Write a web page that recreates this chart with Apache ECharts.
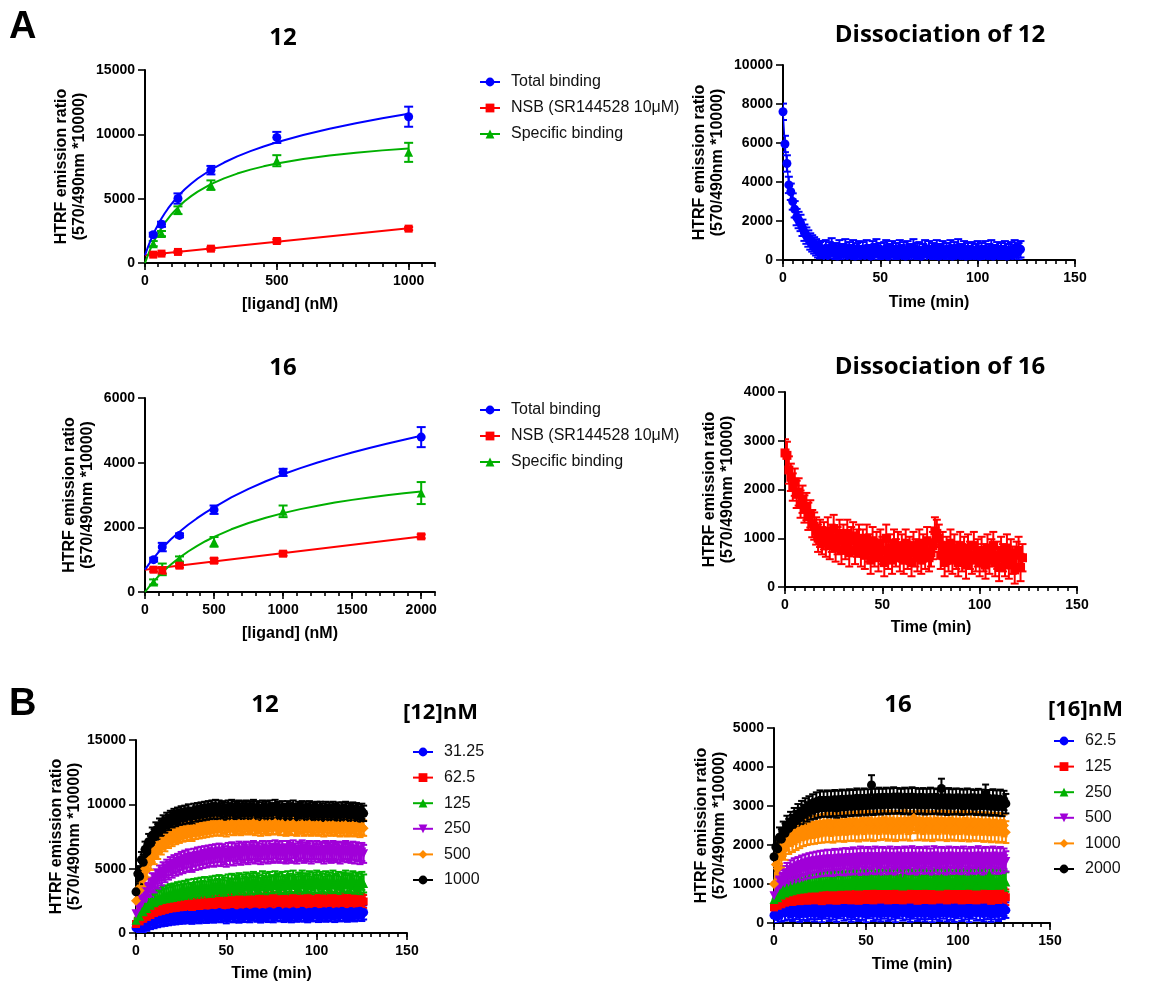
<!DOCTYPE html>
<html><head><meta charset="utf-8">
<script src="https://cdn.jsdelivr.net/npm/echarts@6/dist/echarts.min.js"></script>
<style>html,body{margin:0;padding:0;background:#fff}#c{width:1154px;height:984px}</style>
</head><body><div id="c"></div>
<script>
// ---------- shared time grid (min) ----------
const timeMin = [0,1,2,3,4,5,6,7,8,9,10,11,12,13,14,15,16,17,18,19,20,21,22,23,24,25,26,27,28,29,30,31,32,33,34,35,36,37,38,39,40,41,42,43,44,45,46,47,48,49,50,51,52,53,54,55,56,57,58,59,60,61,62,63,64,65,66,67,68,69,70,71,72,73,74,75,76,77,78,79,80,81,82,83,84,85,86,87,88,89,90,91,92,93,94,95,96,97,98,99,100,101,102,103,104,105,106,107,108,109,110,111,112,113,114,115,116,117,118,119,120,121,122,123,124,125,126];

// ---------- A: saturation of 12 ----------
const sat12Conc = [31.25,62.5,125,250,500,1000];
const sat12Total = [2200,3010,5010,7215,9760,11370];
const sat12TotalErr = [150,200,400,330,430,780];
const sat12NSB = [650,730,860,1115,1710,2670];
const sat12NSBErr = [60,60,80,100,120,120];
const sat12Spec = [1505,2285,4100,6050,7950,8600];
const sat12SpecErr = [200,200,300,370,430,740];
const fit12X = [0,5,10,15,20,25,31.25,40,50,62.5,75,87.5,100,125,150,175,200,250,300,350,400,450,500,600,700,800,900,1000];
const fit12Total = [600,897,1179,1447,1701,1944,2232,2608,3004,3456,3866,4239,4581,5188,5710,6165,6567,7249,7810,8285,8695,9057,9382,9945,10429,10856,11243,11600];
const fit12Spec = [0,286,558,815,1059,1291,1566,1924,2299,2725,3108,3455,3771,4325,4795,5197,5547,6124,6580,6950,7255,7512,7732,8085,8359,8576,8753,8900];
const fit12NSBX = [0,1000];
const fit12NSB = [600,2700];

// ---------- A: saturation of 16 ----------
const sat16Conc = [62.5,125,250,500,1000,2000];
const sat16Total = [1000,1390,1750,2545,3700,4790];
const sat16TotalErr = [60,130,60,130,110,310];
const sat16NSB = [690,670,815,970,1185,1720];
const sat16NSBErr = [60,100,60,70,60,60];
const sat16Spec = [310,700,1020,1550,2495,3060];
const sat16SpecErr = [80,180,80,150,180,340];
const fit16X = [0,31.25,62.5,100,125,187.5,250,312.5,375,437.5,500,625,750,875,1000,1125,1250,1375,1500,1625,1750,1875,2000];
const fit16Total = [690,876,1049,1242,1362,1630,1865,2080,2275,2455,2620,2925,3190,3425,3640,3832,4004,4163,4312,4452,4584,4710,4830];
const fit16Spec = [0,170,327,500,608,851,1064,1253,1420,1570,1705,1939,2134,2298,2440,2563,2670,2765,2849,2925,2993,3054,3110];
const fit16NSBX = [0,2000];
const fit16NSB = [690,1720];

// ---------- A: dissociation ----------
const diss12 = [7600,5950,4950,3850,3500,3000,2600,2200,2050,1900,1650,1400,1250,1100,950,850,750,650,550,500,
550,300,600,250,500,700,350,450,200,600,400,300,650,250,500,350,600,200,450,550,300,
500,250,600,350,200,550,400,650,300,450,250,500,600,200,400,550,300,450,250,600,
350,500,200,550,400,300,650,250,450,500,200,400,600,300,550,250,450,350,600,200,
400,550,250,450,300,600,200,500,350,650,250,400,550,200,450,300,500,250,400,550,
200,450,300,550,250,400,600,200,350,500,250,450,300,550,200,400,500,250,600,350,450,550];
const diss12Err = 420;
const diss16 = [2750,2700,2400,2250,2050,2150,1900,1950,1700,1800,1600,1650,1450,1500,1300,1250,1150,1000,1100,950,
1050,900,1150,850,1000,1200,800,950,1100,750,1000,850,1100,700,950,1050,750,900,1000,700,
900,650,1000,800,550,950,700,850,600,900,750,500,1000,650,800,550,900,700,850,600,
800,550,900,650,750,500,850,700,600,900,550,800,650,950,600,700,850,1150,1100,1000,
650,850,500,750,600,900,550,800,650,500,850,600,750,450,800,650,550,850,600,700,
500,750,600,450,800,550,700,850,500,650,400,750,600,500,800,450,700,550,350,650,750,400,600];
const diss16Err = 280;

// ---------- B: association of 12 ----------
const conc12Labels = ['31.25','62.5','125','250','500','1000'];
const assoc12_31 = [400,520,480,650,600,780,720,900,850,980,920,1050,1000,1120,1060,1180,1100,1230,1150,1280,1200,
1320,1220,1350,1260,1400,1280,1420,1300,1450,1330,1260,1460,1350,1500,1300,1470,1380,1520,1330,1480,
1400,1550,1350,1500,1420,1600,1380,1520,1450,1300,1560,1420,1620,1380,1500,1450,1350,1580,1470,1400,
1620,1450,1380,1560,1500,1650,1420,1530,1360,1600,1480,1550,1400,1650,1470,1380,1580,1500,1700,1450,
1520,1400,1630,1480,1560,1380,1650,1500,1420,1600,1470,1700,1430,1550,1380,1620,1500,1450,1680,1520,
1400,1600,1480,1650,1420,1550,1700,1450,1580,1400,1650,1520,1450,1700,1480,1600,1420,1560,1680,1500,
1450,1650,1520,1700,1480,1600];
const assoc12_62 = [700,950,900,1150,1100,1350,1250,1500,1400,1600,1550,1700,1650,1800,1720,1880,1800,1950,1870,2000,1920,
2050,1950,2100,2000,2150,2020,2200,2080,2250,2100,2020,2280,2150,2300,2100,2330,2200,2380,2150,2350,
2250,2420,2200,2400,2300,2500,2250,2450,2350,2200,2500,2300,2550,2250,2450,2380,2600,2300,2480,2400,
2550,2350,2600,2420,2300,2580,2450,2650,2350,2500,2400,2620,2330,2550,2450,2700,2380,2520,2450,2600,
2400,2650,2480,2350,2600,2450,2700,2400,2550,2450,2650,2380,2580,2500,2700,2420,2550,2350,2620,2480,
2550,2400,2680,2500,2350,2600,2450,2700,2420,2550,2480,2650,2380,2600,2500,2700,2400,2580,2450,2650,
2500,2400,2620,2480,2550,2450];
const assoc12_125 = [1000,1400,1300,1750,1650,2050,1900,2300,2150,2500,2350,2650,2500,2800,2650,2900,2750,3000,2850,3100,2950,
3150,3000,3250,3050,3300,3100,3350,3150,3450,3200,3100,3500,3250,3550,3300,3600,3350,3650,3300,3600,
3450,3700,3400,3750,3500,3800,3450,3750,3600,3400,3850,3550,3900,3500,3800,3650,3950,3550,3850,3700,
4000,3600,3900,3750,4050,3650,3950,3800,3600,4100,3750,3950,3650,4050,3800,3700,4100,3850,3950,3700,
4050,3800,3650,4100,3900,3750,4150,3850,3700,4000,3900,4150,3750,3950,3850,4100,3700,4000,3850,4150,
3800,4050,3900,3700,4100,3850,4000,3750,4150,3900,3800,4050,3700,4000,3900,4150,3800,3950,3850,4100,
3750,4000,3900,3700,4050,3850];
const assoc12_250 = [1500,2100,2000,2700,2600,3200,3100,3600,3500,3950,3850,4250,4150,4550,4400,4800,4650,5000,4850,5200,5000,
5350,5150,5450,5250,5600,5350,5700,5450,5800,5550,5450,5850,5600,5950,5650,6000,5750,6050,5800,6100,
5900,6150,5850,6200,5950,6250,5900,6200,6050,5850,6300,6000,6350,5950,6250,6100,6400,6000,6300,6150,
6400,6050,6350,6200,6450,6100,6350,6250,6050,6450,6200,6400,6100,6450,6250,6150,6500,6250,6400,6150,
6450,6200,6100,6450,6300,6150,6500,6250,6100,6400,6300,6500,6150,6350,6250,6450,6100,6400,6250,6450,
6200,6400,6300,6100,6450,6250,6350,6150,6450,6300,6200,6400,6100,6350,6250,6450,6200,6300,6150,6400,
6100,6350,6250,6050,6300,6150];
const assoc12_500 = [2500,3400,3300,4300,4200,5000,4900,5600,5500,6100,5950,6500,6350,6850,6700,7100,6950,7300,7200,7500,7350,
7650,7500,7750,7600,7850,7700,7950,7750,8050,7850,7750,8100,7900,8150,7950,8200,8000,8250,8050,8300,
8100,8350,8150,8400,8200,8450,8150,8400,8300,8100,8450,8250,8500,8200,8400,8300,8500,8200,8450,8300,
8500,8250,8450,8300,8550,8200,8450,8350,8150,8500,8300,8450,8200,8500,8300,8250,8550,8300,8450,8200,
8500,8250,8150,8450,8300,8200,8500,8250,8150,8400,8300,8450,8150,8400,8250,8450,8150,8350,8250,8400,
8150,8400,8250,8100,8400,8200,8350,8150,8400,8250,8150,8350,8100,8350,8200,8400,8100,8300,8150,8350,
8100,8300,8200,8050,8250,8150];
const assoc12_1000 = [3200,4600,4400,5700,5500,6500,6300,7100,6950,7600,7450,8000,7850,8300,8150,8550,8400,8750,8600,8900,8800,
9050,8900,9150,9000,9250,9050,9300,9100,9400,9150,9100,9450,9250,9500,9300,9550,9350,9600,9400,9650,
9450,9700,9500,9750,9450,9700,9500,9650,9550,9400,9700,9500,9750,9450,9650,9550,9700,9450,9650,9500,
9700,9450,9650,9500,9750,9400,9650,9550,9350,9700,9500,9650,9400,9700,9500,9450,9750,9500,9600,9400,
9650,9450,9350,9650,9500,9400,9700,9450,9350,9600,9500,9650,9350,9600,9450,9650,9350,9550,9450,9600,
9350,9600,9450,9300,9600,9400,9550,9350,9600,9450,9350,9550,9300,9550,9400,9600,9300,9500,9350,9550,
9300,9500,9400,9250,9450,9300];
const assoc12Err = [550,500,700,700,600,600];

// ---------- B: association of 16 ----------
const conc16Labels = ['62.5','125','250','500','1000','2000'];
const assoc16_62 = [200,280,180,330,240,380,260,400,290,350,250,420,300,380,230,430,280,360,250,410,300,
380,240,430,300,370,220,420,310,390,250,440,290,360,230,410,320,380,260,430,290,
360,230,420,300,390,250,440,280,370,220,410,320,380,250,430,290,360,240,420,310,
380,250,430,290,370,220,410,320,390,260,440,290,360,230,420,310,380,250,430,300,
370,240,410,300,380,220,440,290,360,250,420,310,390,240,430,280,370,230,410,320,
380,250,430,290,360,220,420,310,390,260,440,280,370,240,410,300,380,230,430,290,
360,250,420,300,380,330];
const assoc16_125 = [400,520,440,580,480,620,520,660,560,640,540,700,580,680,560,720,600,690,570,730,620,
700,580,740,620,710,560,750,640,690,580,760,630,720,570,740,650,700,590,770,620,
720,580,760,640,700,570,780,620,730,590,760,650,700,580,770,630,720,600,750,640,
700,580,770,630,720,590,760,650,710,580,780,620,730,600,760,640,700,570,770,630,
720,590,760,650,700,580,780,620,730,600,760,640,710,580,770,630,720,600,750,640,
700,580,770,900,720,590,760,650,710,580,780,620,730,600,760,640,700,570,770,630,
720,590,760,640,700,660];
const assoc16_250 = [600,720,650,800,720,860,770,900,800,920,830,950,850,970,870,990,880,1000,900,1010,920,
1020,900,1040,920,1060,930,1050,940,1080,950,1070,930,1090,960,1060,940,1100,970,1070,950,
1090,960,1120,980,1150,950,1100,990,1130,960,1110,980,1140,970,1100,990,1150,960,1120,980,
1100,960,1140,990,1110,970,1150,980,1120,950,1160,990,1110,970,1140,990,1100,960,1150,980,
1110,970,1140,990,1100,960,1150,980,1120,950,1160,990,1110,970,1140,990,1100,960,1150,980,
1120,960,1140,990,1110,970,1150,980,1120,950,1160,990,1110,970,1140,990,1250,960,1150,980,
1110,970,1140,990,1100,1050];
const assoc16_500 = [700,950,880,1100,1020,1200,1120,1280,1200,1350,1250,1400,1300,1430,1330,1470,1370,1500,1400,1530,1420,
1550,1430,1570,1450,1590,1460,1600,1470,1620,1480,1610,1460,1640,1490,1620,1500,1650,1480,1660,1510,
1640,1500,1680,1520,1650,1490,1700,1530,1660,1500,1690,1540,1650,1510,1700,1530,1670,1500,1690,1550,
1660,1510,1700,1540,1650,1500,1690,1550,1660,1400,1700,1530,1670,1510,1710,1540,1660,1500,1690,1550,
1660,1520,1700,1540,1650,1500,1710,1550,1670,1510,1690,1540,1660,1500,1700,1550,1670,1520,1690,1540,
1660,1510,1700,1550,1650,1500,1690,1540,1670,1520,1710,1550,1660,1500,1690,1540,1670,1510,1700,1550,
1660,1520,1690,1540,1650,1580];
const assoc16_1000 = [1000,1500,1400,1800,1700,2000,1900,2150,2050,2250,2100,2300,2150,2350,2200,2400,2250,2420,2280,2450,2300,
2460,2310,2480,2330,2500,2340,2520,2350,2540,2360,2510,2340,2550,2370,2530,2380,2560,2360,2540,2390,
2560,2380,2580,2400,2550,2370,2590,2410,2560,2390,2600,2420,2570,2380,2590,2400,2560,2410,2600,2430,
2570,2390,2600,2420,2560,2380,2590,2410,2570,2400,2610,2420,2560,2390,2590,2700,2580,2400,2600,2420,
2560,2390,2600,2410,2570,2380,2590,2420,2560,2400,2600,2410,2570,2380,2590,2420,2550,2390,2580,2400,
2560,2380,2590,2410,2550,2370,2580,2400,2540,2380,2570,2390,2540,2360,2560,2380,2530,2350,2550,2370,
2530,2340,2540,2360,2500,2330];
const assoc16_2000 = [1700,1950,1900,2200,2150,2350,2300,2500,2420,2600,2520,2700,2620,2800,2700,2880,2780,2950,2850,3000,2900,
3050,2920,3100,2950,3150,2970,3120,2980,3150,2960,3130,2990,3160,2950,3140,3000,3170,2970,3150,3010,
3180,2990,3160,3020,3200,3000,3170,3030,3200,3010,3180,3040,3540,3020,3190,3050,3220,3030,3190,3060,
3220,3040,3200,3060,3230,3050,3210,3070,3190,3040,3220,3060,3200,3030,3230,3050,3210,3040,3190,3060,
3210,3030,3190,3050,3220,3040,3200,3060,3180,3030,3450,3050,3190,3020,3210,3040,3180,3030,3200,3050,
3190,3020,3170,3040,3200,3030,3180,3050,3160,3020,3190,3040,3170,3010,3300,3030,3160,3000,3180,3020,
3150,3000,3170,2990,3140,3060];
const assoc16Err = [200,200,250,260,280,250];

// ---------- styling ----------
const AXF = '"Liberation Sans", Arial, Helvetica, sans-serif';
const TTF = '"Open Sans", "Liberation Sans", sans-serif';
const C = {blue:'#0000ff', red:'#ff0000', green:'#00b000', purple:'#a000d8', orange:'#ff8a00', black:'#000000'};
const YNAME = 'HTRF emission ratio\n(570/490nm *10000)';

const panels = [
  {grid:{left:145,top:70,width:290,height:193}, xMax:1100,xMinor:50,xMajor:500,yMax:15000,yMajor:5000,xName:'[ligand] (nM)',yGap:56,xGap:33},
  {grid:{left:783,top:65,width:292,height:195}, xMax:150,xMinor:5,xMajor:50,yMax:10000,yMajor:2000,xName:'Time (min)',yGap:56,xGap:34},
  {grid:{left:145,top:398,width:290,height:194}, xMax:2100,xMinor:100,xMajor:500,yMax:6000,yMajor:2000,xName:'[ligand] (nM)',yGap:48,xGap:33},
  {grid:{left:785,top:392,width:292,height:195}, xMax:150,xMinor:5,xMajor:50,yMax:4000,yMajor:1000,xName:'Time (min)',yGap:48,xGap:32},
  {grid:{left:136,top:740,width:271,height:193}, xMax:150,xMinor:5,xMajor:50,yMax:15000,yMajor:5000,xName:'Time (min)',yGap:51,xGap:32},
  {grid:{left:774,top:728,width:276,height:195}, xMax:150,xMinor:5,xMajor:50,yMax:5000,yMajor:1000,xName:'Time (min)',yGap:44,xGap:33}
];

const grid = [], xAxis = [], yAxis = [];
const lineBlack = {color:'#000', width:2};
const tickStyle = {color:'#000', width:1.6};
const labelStyle = {color:'#000', fontFamily:AXF, fontWeight:'bold', fontSize:14};
const nameStyle = {color:'#000', fontFamily:AXF, fontWeight:'bold', fontSize:16, lineHeight:18};
panels.forEach((p, i) => {
  grid.push(Object.assign({containLabel:false, outerBoundsMode:'none'}, p.grid));
  const majors = [];
  for (let v = 0; v <= p.xMax + 1e-9; v += p.xMajor) majors.push(v);
  xAxis.push({
    type:'value', gridIndex:i, min:0, max:p.xMax, interval:p.xMinor, position:'bottom',
    axisLine:{show:true, onZero:false, lineStyle:lineBlack},
    axisTick:{show:true, length:4, lineStyle:tickStyle},
    axisLabel:Object.assign({margin:11, formatter: v => (Math.abs(v % p.xMajor) < 1e-6 ? String(v) : '')}, labelStyle),
    splitLine:{show:false},
    name:p.xName, nameLocation:'middle', nameGap:p.xGap, nameTextStyle:nameStyle
  });
  xAxis.push({
    type:'value', gridIndex:i, min:0, max:p.xMax, interval:p.xMajor, position:'bottom',
    axisLine:{show:false}, axisTick:{show:true, length:7, lineStyle:tickStyle, customValues:majors},
    axisLabel:{show:false}, splitLine:{show:false}
  });
  yAxis.push({
    type:'value', gridIndex:i, min:0, max:p.yMax, interval:p.yMajor, position:'left',
    axisLine:{show:true, onZero:false, lineStyle:lineBlack},
    axisTick:{show:true, length:7, lineStyle:tickStyle},
    axisLabel:Object.assign({margin:10, formatter: v => String(v)}, labelStyle),
    splitLine:{show:false},
    name:YNAME, nameLocation:'middle', nameGap:p.yGap, nameRotate:90, nameTextStyle:nameStyle
  });
});

function xy(xs, ys) { return ys.map((y, i) => [xs[i], y]); }
function errSeries(pi, xs, ys, e, color, cap, lw) {
  const data = ys.map((y, i) => { const ee = Array.isArray(e) ? e[i] : e; return [xs[i], y - ee, y + ee]; });
  return {
    type:'custom', xAxisIndex:2*pi, yAxisIndex:pi, silent:true, clip:true, data, encode:{x:0, y:[1,2]},
    renderItem:(params, api) => {
      const x = api.value(0), lo = api.value(1), hi = api.value(2);
      const a = api.coord([x, lo]), b = api.coord([x, hi]);
      const h = cap / 2, st = {stroke:color, lineWidth:lw, fill:null};
      return {type:'group', children:[
        {type:'line', shape:{x1:a[0], y1:a[1], x2:b[0], y2:b[1]}, style:st},
        {type:'line', shape:{x1:b[0]-h, y1:b[1], x2:b[0]+h, y2:b[1]}, style:st},
        {type:'line', shape:{x1:a[0]-h, y1:a[1], x2:a[0]+h, y2:a[1]}, style:st}
      ]};
    }
  };
}
function ptSeries(pi, name, xs, ys, color, symbol, size, rot, lw, lop) {
  return {
    type:'line', name, xAxisIndex:2*pi, yAxisIndex:pi, data:xy(xs, ys), symbol, symbolSize:size, symbolRotate:rot || 0,
    showSymbol:true, silent:true, clip:true, emphasis:{disabled:true},
    itemStyle:{color, borderWidth:0, opacity:1}, lineStyle:{color, width:lw, opacity:lop}
  };
}
function fitSeries(pi, name, xs, ys, color) {
  return {
    type:'line', name, xAxisIndex:2*pi, yAxisIndex:pi, data:xy(xs, ys), symbol:'none', smooth:false,
    silent:true, emphasis:{disabled:true}, lineStyle:{color, width:2, join:'round'}
  };
}

const series = [];
// Panel 0: saturation 12
series.push(fitSeries(0, 'fitA12NSB', fit12NSBX, fit12NSB, C.red));
series.push(fitSeries(0, 'fitA12Spec', fit12X, fit12Spec, C.green));
series.push(fitSeries(0, 'fitA12Total', fit12X, fit12Total, C.blue));
series.push(errSeries(0, sat12Conc, sat12NSB, sat12NSBErr, C.red, 9, 2));
series.push(ptSeries(0, 'A12|NSB (SR144528 10μM)', sat12Conc, sat12NSB, C.red, 'rect', 8, 0, 0, 0));
series.push(errSeries(0, sat12Conc, sat12Spec, sat12SpecErr, C.green, 9, 2));
series.push(ptSeries(0, 'A12|Specific binding', sat12Conc, sat12Spec, C.green, 'triangle', 9, 0, 0, 0));
series.push(errSeries(0, sat12Conc, sat12Total, sat12TotalErr, C.blue, 9, 2));
series.push(ptSeries(0, 'A12|Total binding', sat12Conc, sat12Total, C.blue, 'circle', 9, 0, 0, 0));
// Panel 2: saturation 16
series.push(fitSeries(2, 'fitA16NSB', fit16NSBX, fit16NSB, C.red));
series.push(fitSeries(2, 'fitA16Spec', fit16X, fit16Spec, C.green));
series.push(fitSeries(2, 'fitA16Total', fit16X, fit16Total, C.blue));
series.push(errSeries(2, sat16Conc, sat16Spec, sat16SpecErr, C.green, 9, 2));
series.push(ptSeries(2, 'A16|Specific binding', sat16Conc, sat16Spec, C.green, 'triangle', 9, 0, 0, 0));
series.push(errSeries(2, sat16Conc, sat16NSB, sat16NSBErr, C.red, 9, 2));
series.push(ptSeries(2, 'A16|NSB (SR144528 10μM)', sat16Conc, sat16NSB, C.red, 'rect', 8, 0, 0, 0));
series.push(errSeries(2, sat16Conc, sat16Total, sat16TotalErr, C.blue, 9, 2));
series.push(ptSeries(2, 'A16|Total binding', sat16Conc, sat16Total, C.blue, 'circle', 9, 0, 0, 0));
// Panel 1, 3: dissociation
series.push(errSeries(1, timeMin, diss12, diss12Err, C.blue, 8, 2));
series.push(ptSeries(1, 'D12', timeMin, diss12, C.blue, 'circle', 9, 0, 1.5, 1));
series.push(errSeries(3, timeMin, diss16, diss16Err, C.red, 8, 2));
series.push(ptSeries(3, 'D16', timeMin, diss16, C.red, 'rect', 9, 0, 1.5, 1));
// Panels 4, 5: association
const symCfg = [
  ['circle', 9, 0], ['rect', 8, 0], ['triangle', 9, 0], ['triangle', 9, 180], ['diamond', 10, 0], ['circle', 9, 0]
];
const colOrder = [C.blue, C.red, C.green, C.purple, C.orange, C.black];
const a12 = [assoc12_31, assoc12_62, assoc12_125, assoc12_250, assoc12_500, assoc12_1000];
const a16 = [assoc16_62, assoc16_125, assoc16_250, assoc16_500, assoc16_1000, assoc16_2000];
a12.forEach((ys, k) => {
  series.push(errSeries(4, timeMin, ys, assoc12Err[k], colOrder[k], 7, 2));
  series.push(ptSeries(4, 'B12|' + conc12Labels[k], timeMin, ys, colOrder[k], symCfg[k][0], symCfg[k][1], symCfg[k][2], 1.5, 1));
});
a16.forEach((ys, k) => {
  series.push(errSeries(5, timeMin, ys, assoc16Err[k], colOrder[k], 7, 2));
  series.push(ptSeries(5, 'B16|' + conc16Labels[k], timeMin, ys, colOrder[k], symCfg[k][0], symCfg[k][1], symCfg[k][2], 1.5, 1));
});

function legendCfg(names, left, top, gap) {
  return {
    data:names, orient:'vertical', left, top, padding:0, itemWidth:20, itemHeight:11, itemGap:gap, selectedMode:false,
    formatter: n => n.split('|')[1],
    textStyle:{fontFamily:AXF, fontSize:16, color:'#111', lineHeight:16, padding:[0,0,0,6]},
    lineStyle:{width:2, opacity:1}, itemStyle:{borderWidth:0}
  };
}
const legend = [
  legendCfg(['A12|Total binding','A12|NSB (SR144528 10μM)','A12|Specific binding'], 479, 74, 10),
  legendCfg(['A16|Total binding','A16|NSB (SR144528 10μM)','A16|Specific binding'], 479, 402, 10),
  legendCfg(conc12Labels.map(s => 'B12|' + s), 412, 744, 9.6),
  legendCfg(conc16Labels.map(s => 'B16|' + s), 1053, 733, 9.6)
];

function txt(text, x, y, size, family, align) {
  return {type:'text', x, y, silent:true, style:{text, fill:'#000', font:'bold ' + size + 'px ' + family,
    textAlign:align, align, textVerticalAlign:'middle', verticalAlign:'middle'}};
}
const graphic = [
  txt('A', 9, 28, 38, AXF, 'left'),
  txt('B', 9, 705, 38, AXF, 'left'),
  txt('12', 283, 38, 24, TTF, 'center'),
  txt('Dissociation of 12', 940, 35, 24, TTF, 'center'),
  txt('16', 283, 368, 24, TTF, 'center'),
  txt('Dissociation of 16', 940, 367, 24, TTF, 'center'),
  txt('12', 265, 705, 24, TTF, 'center'),
  txt('16', 898, 705, 24, TTF, 'center'),
  txt('[12]nM', 403, 713, 22, TTF, 'left'),
  txt('[16]nM', 1048, 710, 22, TTF, 'left')
];

const chart = echarts.init(document.getElementById('c'), null, {renderer:'canvas', width:1154, height:984});
chart.setOption({
  backgroundColor:'#ffffff', animation:false, tooltip:{show:false},
  grid, xAxis, yAxis, series, legend, graphic
});
</script></body></html>
